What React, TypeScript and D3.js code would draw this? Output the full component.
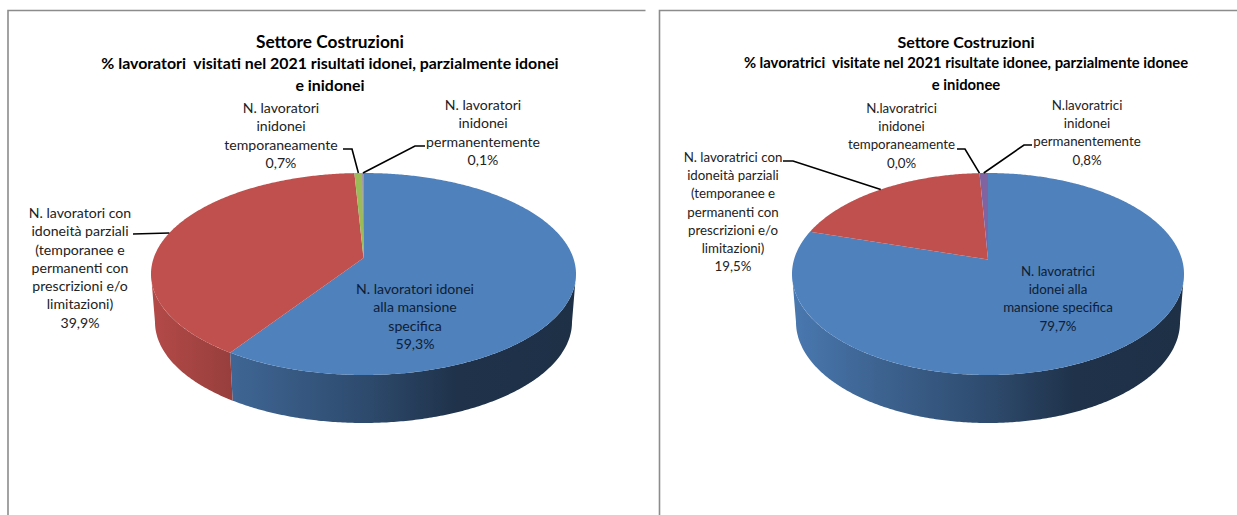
import React from "react";
import * as d3 from "d3";

// Worker outcome shares for the construction sector, 2021 (percent).
const menValues = [59.3, 39.9, 0.7, 0.1];
const womenValues = [79.7, 19.5, 0.0, 0.8];

const menCategories = [
  ["N. lavoratori idonei", "alla mansione", "specifica"],
  ["N. lavoratori con", "idoneità parziali", "(temporanee e", "permanenti con", "prescrizioni e/o", "limitazioni)"],
  ["N. lavoratori", "inidonei", "temporaneamente"],
  ["N. lavoratori", "inidonei", "permanentemente"],
];
const womenCategories = [
  ["N. lavoratrici", "idonei alla", "mansione specifica"],
  ["N. lavoratrici con", "idoneità parziali", "(temporanee e", "permanenti con", "prescrizioni e/o", "limitazioni)"],
  ["N.lavoratrici", "inidonei", "temporaneamente"],
  ["N.lavoratrici", "inidonei", "permanentemente"],
];

const menTitle = [
  "Settore Costruzioni",
  "% lavoratori  visitati nel 2021 risultati idonei, parzialmente idonei",
  "e inidonei",
];
const womenTitle = [
  "Settore Costruzioni",
  "% lavoratrici  visitate nel 2021 risultate idonee, parzialmente idonee",
  "e inidonee",
];

const sliceColors = ["#4f81bd", "#c0504d", "#9bbb59", "#8064a2"];
// Brightness of the pie wall from its left edge to its right edge.
const wallShade: [number, number][] = [
  [0, 0.93],
  [0.2, 0.78],
  [0.5, 0.58],
  [0.72, 0.39],
  [1, 0.37],
];

type Geometry = {
  id: string;
  cx: number;
  rx: number;
  apexLift: number;
  titleX: number;
  titleSizes: number[];
  labelSize: number;
  labels: { x: number; y: number }[];
  leaders: [number, number][][];
};

const TOP_CY = 274;
const TOP_RY = 101;
const WALL_CY = 322;
const WALL_RY = 101;
const LINE_STEP = 18.3;
const TITLE_Y = [42, 63, 85];

const menGeometry: Geometry = {
  id: "men",
  cx: 363.5,
  rx: 212.5,
  apexLift: 16,
  titleX: 330,
  titleSizes: [17.3, 15.9, 15.9],
  labelSize: 14.1,
  labels: [
    { x: 415, y: 289 },
    { x: 80, y: 213 },
    { x: 281, y: 108 },
    { x: 483, y: 105 },
  ],
  leaders: [
    [],
    [[133, 234]],
    [[343, 149], [352, 149]],
    [[425, 146], [415, 146]],
  ],
};

const womenGeometry: Geometry = {
  id: "women",
  cx: 988,
  rx: 196,
  apexLift: 14.5,
  titleX: 966,
  titleSizes: [16, 14.8, 14.8],
  labelSize: 13.3,
  labels: [
    { x: 1058, y: 271 },
    { x: 733, y: 157 },
    { x: 901.5, y: 108 },
    { x: 1087, y: 105 },
  ],
  leaders: [
    [],
    [[783, 161], [793, 161]],
    [[957, 149], [965, 149]],
    [[1032, 145], [1024, 145]],
  ],
};

const formatShare = (v: number) => `${v.toFixed(1).replace(".", ",")}%`;

function Pie3D({ values, categories, title, geo }: {
  values: number[];
  categories: string[][];
  title: string[];
  geo: Geometry;
}) {
  const slices = d3.pie<number>().sort(null).startAngle(0).endAngle(2 * Math.PI)(values);

  // Perspective projection of the unit circle: stays an ellipse, with the
  // circle's centre lifted towards the far rim.
  const project = (cy: number, rx: number, ry: number, lift: number) => {
    const p = lift / ry;
    const a = rx * Math.sqrt(1 - p * p);
    return (t: number): [number, number] => {
      const w = 1 + p * Math.cos(t);
      return [geo.cx + (a * Math.sin(t)) / w, cy - (ry * Math.cos(t) + lift) / w];
    };
  };
  const top = project(TOP_CY, geo.rx, TOP_RY, geo.apexLift);
  const wall = project(WALL_CY, geo.rx - 4, WALL_RY, geo.apexLift);

  const line = d3.line();
  const sweep = (a: number, b: number) => {
    const n = Math.max(2, Math.ceil(Math.abs(b - a) / 0.01));
    const at = d3.scaleLinear().domain([0, n]).range([a, b]);
    return d3.range(n + 1).map((i) => at(i));
  };

  const frontStart = Math.acos(-geo.apexLift / TOP_RY);
  const frontEnd = 2 * Math.PI - frontStart;

  const shadeX = d3.scaleLinear().domain([0, 1]).range([geo.cx - geo.rx, geo.cx + geo.rx]);

  return (
    <g>
      <defs>
        {sliceColors.map((c, i) => (
          <linearGradient
            key={c}
            id={`${geo.id}-wall-${i}`}
            gradientUnits="userSpaceOnUse"
            x1={shadeX(0)}
            x2={shadeX(1)}
            y1={0}
            y2={0}
          >
            {wallShade.map(([o, k]) => {
              const base = d3.rgb(c);
              return (
                <stop
                  key={o}
                  offset={o}
                  stopColor={d3.rgb(base.r * k, base.g * k, base.b * k).formatHex()}
                />
              );
            })}
          </linearGradient>
        ))}
      </defs>

      {slices.map((s, i) => {
        const a = Math.max(s.startAngle, frontStart);
        const b = Math.min(s.endAngle, frontEnd);
        if (b <= a) return null;
        const rim = sweep(a, b);
        const pts = [...rim.map(top), ...rim.slice().reverse().map(wall)];
        return <path key={i} d={`${line(pts)}Z`} fill={`url(#${geo.id}-wall-${i})`} />;
      })}

      {slices.map((s, i) => {
        if (s.endAngle <= s.startAngle) return null;
        const apex: [number, number] = [geo.cx, TOP_CY - geo.apexLift];
        const pts = [apex, ...sweep(s.startAngle, s.endAngle).map(top)];
        return <path key={i} d={`${line(pts)}Z`} fill={sliceColors[i]} />;
      })}

      {slices.map((s, i) => {
        if (geo.leaders[i].length === 0) return null;
        const end = top((s.startAngle + s.endAngle) / 2);
        return (
          <path
            key={i}
            d={line([...geo.leaders[i], end]) ?? ""}
            fill="none"
            stroke="#000"
            strokeWidth={1.6}
          />
        );
      })}

      {title.map((t, i) => (
        <text
          key={i}
          x={geo.titleX}
          y={TITLE_Y[i]}
          dy="0.35em"
          textAnchor="middle"
          xmlSpace="preserve"
          fontWeight={700}
          fontSize={geo.titleSizes[i]}
          fill="#000"
        >
          {t}
        </text>
      ))}

      {categories.map((lines, i) => (
        <text
          key={i}
          textAnchor="middle"
          fontSize={geo.labelSize}
          fill={i === 0 ? "#0e1d33" : "#222"}
        >
          {[...lines, formatShare(values[i])].map((l, j) => (
            <tspan key={j} x={geo.labels[i].x} y={geo.labels[i].y + j * LINE_STEP} dy="0.35em">
              {l}
            </tspan>
          ))}
        </text>
      ))}
    </g>
  );
}

export default function App() {
  return (
    <svg
      width={1237}
      height={515}
      viewBox="0 0 1237 515"
      fontFamily="Lato, 'Open Sans', sans-serif"
      style={{ position: "absolute", left: 0, top: 0, display: "block", background: "#fff" }}
    >
      <path d="M8,515V10.5H645.5" fill="none" stroke="#8c8c8c" strokeWidth={1.6} />
      <path d="M659.5,515V10.5H1237" fill="none" stroke="#8c8c8c" strokeWidth={1.6} />
      <Pie3D values={menValues} categories={menCategories} title={menTitle} geo={menGeometry} />
      <Pie3D values={womenValues} categories={womenCategories} title={womenTitle} geo={womenGeometry} />
    </svg>
  );
}
